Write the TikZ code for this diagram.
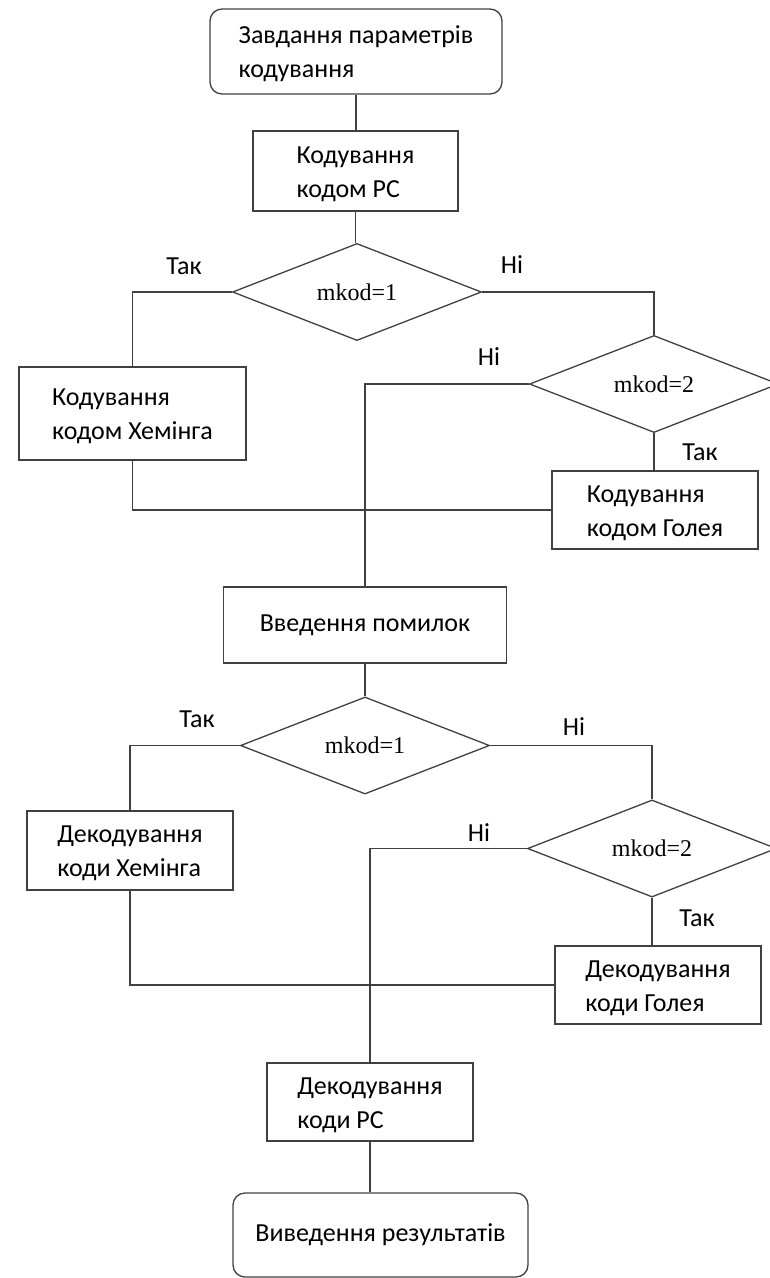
\documentclass[tikz,border=0pt]{standalone}
\usepackage{fontspec}
\setmainfont{Carlito}
\newfontfamily\timesfont{Liberation Serif}
\usetikzlibrary{shapes.geometric}

\begin{document}
\begin{tikzpicture}[x=1pt, y=-1pt, line width=1.3pt,
  conn/.style={draw=black!75},
  procbox/.style={draw=black!75, rectangle, align=left, inner sep=0pt, font=\fontsize{26}{34}\selectfont},
  twoline/.style={text height=58pt, text depth=6pt},
  termbox/.style={procbox, rounded corners=12pt},
  cond/.style={draw=black!75, diamond, minimum width=249pt, minimum height=89pt, inner sep=0pt, font=\timesfont\fontsize{24}{28}\selectfont},
  lab/.style={font=\fontsize{26}{28}\selectfont}]
\useasboundingbox (0,0) rectangle (770,1278);
\clip (0,0) rectangle (770,1278);

% coding part
\node[termbox, twoline, minimum width=292pt, minimum height=85pt] (start) at (356,51.5) {Завдання параметрів\\кодування};
\node[procbox, twoline, minimum width=205pt, minimum height=80pt] (encrs) at (355.5,171) {Кодування\\кодом РС};
\node[cond] (c1) at (357,292) {mkod=1};
\node[cond] (c2) at (654,384) {mkod=2};
\node[procbox, twoline, minimum width=227pt, minimum height=93pt] (encham) at (132.5,413.5) {Кодування\\кодом Хемінга};
\node[procbox, twoline, minimum width=206pt, minimum height=78pt] (encgol) at (655,510) {Кодування\\кодом Голея};
\node[procbox, minimum width=283pt, minimum height=76pt] (errors) at (365,625) {Введення помилок};

% decoding part
\node[cond] (c3) at (365,745.5) {mkod=1};
\node[cond] (c4) at (652,848.5) {mkod=2};
\node[procbox, twoline, minimum width=206pt, minimum height=79pt] (decham) at (130,850.5) {Декодування\\коди Хемінга};
\node[procbox, twoline, minimum width=206pt, minimum height=78pt] (decgol) at (658,985) {Декодування\\коди Голея};
\node[procbox, twoline, minimum width=206pt, minimum height=78pt] (decrs) at (370,1102) {Декодування\\коди РС};
\node[termbox, minimum width=295pt, minimum height=84pt] (finish) at (380.5,1235) {Виведення результатів};

% labels
\node[lab] (yes1) at (184,266) {Так};
\node[lab] (no1) at (512,265) {Ні};
\node[lab] (no2) at (489,357) {Ні};
\node[lab] (yes2) at (700,452) {Так};
\node[lab] (yes3) at (197,719) {Так};
\node[lab] (no3) at (574,727) {Ні};
\node[lab] (no4) at (479,833) {Ні};
\node[lab] (yes4) at (697,918) {Так};

\draw[conn] (start.south) -- (start.south |- encrs.north);
\draw[conn] (encrs.south) -- (encrs.south |- c1.north);
\draw[conn] (c1.west) -| (encham.north);
\draw[conn] (c1.east) -| (c2.north);
\draw[conn] (c2.west) -| (errors.north);
\draw[conn] (c2.south) -- (c2.south |- encgol.north);
\draw[conn] (encham.south) |- (encgol.west);
\draw[conn] (errors.south) -- (c3.north);
\draw[conn] (c3.west) -| (decham.north);
\draw[conn] (c3.east) -| (c4.north);
\draw[conn] (c4.west) -| (decrs.north);
\draw[conn] (c4.south) -- (c4.south |- decgol.north);
\draw[conn] (decham.south) |- (decgol.west);
\draw[conn] (decrs.south) -- (decrs.south |- finish.north);

\end{tikzpicture}
\end{document}
